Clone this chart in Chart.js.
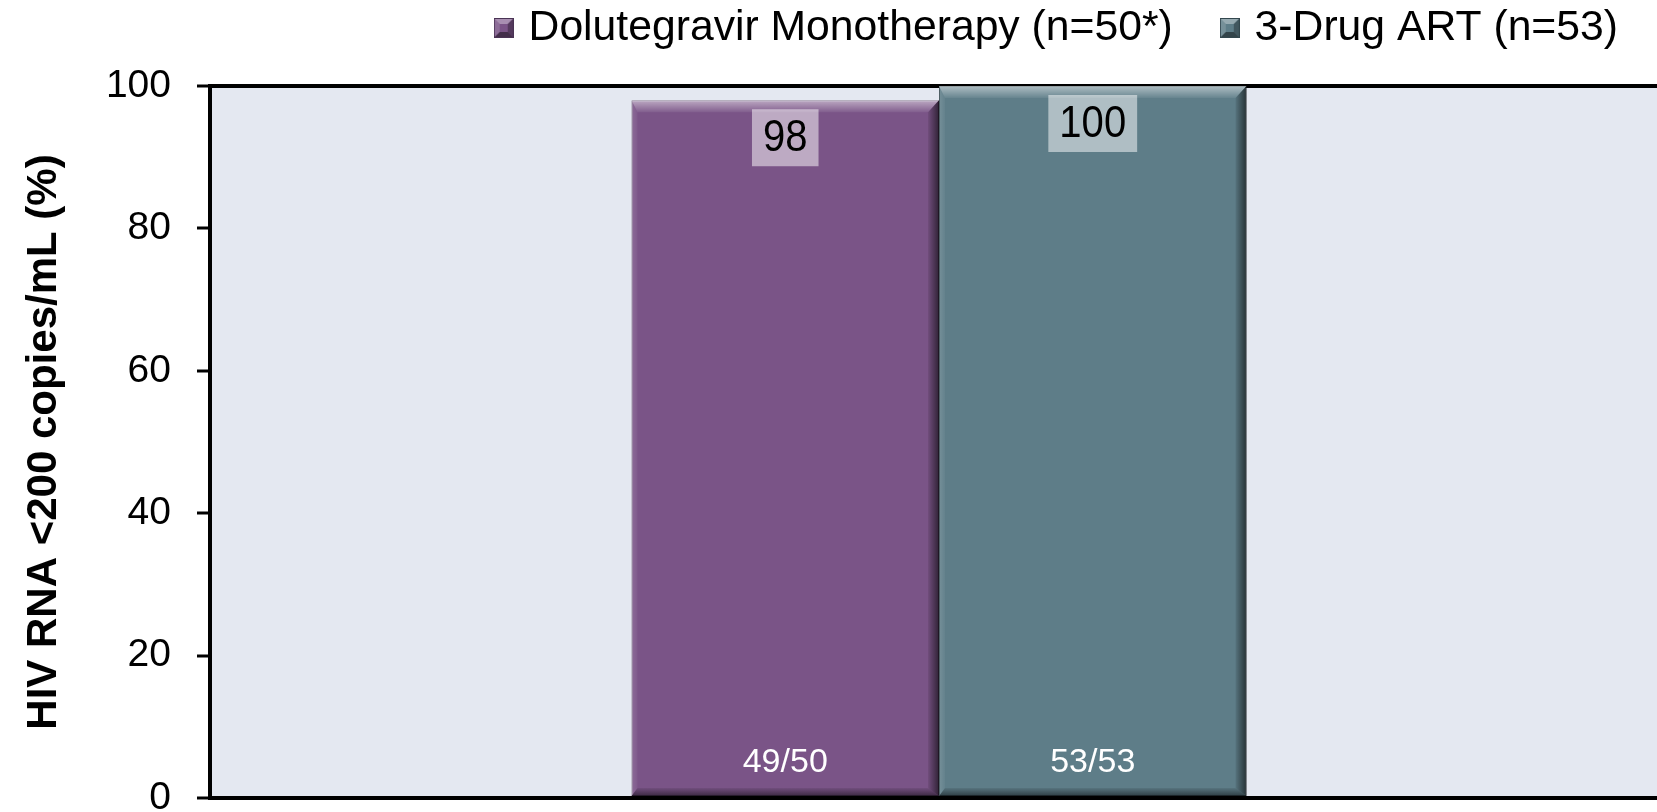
<!DOCTYPE html>
<html>
<head>
<meta charset="utf-8">
<script src="https://cdn.jsdelivr.net/npm/chart.js@4.4.1/dist/chart.umd.min.js"></script>
<style>
html,body{margin:0;padding:0;background:#fff;overflow:hidden;}
#wrap{width:1668px;height:812px;position:relative;}
</style>
</head>
<body>
<div id="wrap"><canvas id="c"></canvas></div>
<script>
// ---- data ----
const categories = [''];
const seriesNames = ['Dolutegravir Monotherapy (n=50*)', '3-Drug ART (n=53)'];
const dtgValues = [98];
const artValues = [100];
const dtgCounts = ['49/50'];
const artCounts = ['53/53'];
const yTickValues = [0, 20, 40, 60, 80, 100];
const yAxisTitle = 'HIV RNA <200 copies/mL (%)';

// ---- styles ----
const FONT = "'Liberation Sans', Arial, Helvetica, sans-serif";
Chart.defaults.font.family = FONT;
Chart.defaults.color = '#000';
const seriesColors = ['#7A5487', '#5E7D88'];
const seriesEdges = ['#4A3354', '#33474E'];
const countLists = [dtgCounts, artCounts];

function poly(ctx, pts, fill) {
  ctx.beginPath();
  ctx.moveTo(pts[0][0], pts[0][1]);
  for (let k = 1; k < pts.length; k++) ctx.lineTo(pts[k][0], pts[k][1]);
  ctx.closePath();
  ctx.fillStyle = fill;
  ctx.fill();
}

function legendSwatch(color, edge) {
  const c = document.createElement('canvas');
  c.width = 20; c.height = 20;
  const g = c.getContext('2d');
  g.fillStyle = color;
  g.fillRect(0, 0, 20, 20);
  poly(g, [[0, 0], [20, 0], [14, 6], [6, 6]], 'rgba(255,255,255,0.35)');
  poly(g, [[0, 0], [6, 6], [6, 14], [0, 20]], 'rgba(255,255,255,0.15)');
  poly(g, [[20, 0], [20, 20], [14, 14], [14, 6]], 'rgba(0,0,0,0.3)');
  poly(g, [[0, 20], [20, 20], [14, 14], [6, 14]], 'rgba(0,0,0,0.45)');
  g.strokeStyle = edge;
  g.lineWidth = 1;
  g.strokeRect(0.5, 0.5, 19, 19);
  return c;
}
const swatches = [legendSwatch(seriesColors[0], seriesEdges[0]), legendSwatch(seriesColors[1], seriesEdges[1])];

const plotBackground = {
  id: 'plotBackground',
  beforeDraw(chart) {
    const {ctx, chartArea: a} = chart;
    ctx.save();
    ctx.fillStyle = '#E4E8F1';
    ctx.fillRect(a.left, a.top, a.right - a.left, a.bottom - a.top);
    ctx.restore();
  }
};

const legendPlacement = {
  id: 'legendPlacement',
  beforeInit(chart) {
    const lg = chart.legend;
    const fit = lg.fit;
    lg.fit = function () {
      fit.call(this);
      this.height = 86;
      if (this.lineWidths) this.lineWidths[0] += 1;
    };
  },
  afterLayout(chart) {
    chart.legend.right = 1672.5;
    chart.legend.top = -46.9;
  }
};

const bevel = {
  id: 'bevel',
  afterDatasetsDraw(chart) {
    const ctx = chart.ctx;
    chart.data.datasets.forEach((ds, i) => {
      chart.getDatasetMeta(i).data.forEach(bar => {
        const {x, y, base, width} = bar.getProps(['x', 'y', 'base', 'width'], true);
        const L = x - width / 2, R = x + width / 2, T = Math.min(y, base), B = Math.max(y, base);
        const bt = 12, br = 11, bb = 8, bl = 6;
        ctx.save();
        let g = ctx.createLinearGradient(0, T, 0, T + bt);
        g.addColorStop(0, 'rgba(255,255,255,0.5)');
        g.addColorStop(1, 'rgba(255,255,255,0.06)');
        poly(ctx, [[L, T], [R, T], [R - br, T + bt], [L + bl, T + bt]], g);
        g = ctx.createLinearGradient(R - br, 0, R, 0);
        g.addColorStop(0, 'rgba(0,0,0,0.08)');
        g.addColorStop(1, 'rgba(0,0,0,0.6)');
        poly(ctx, [[R, T], [R, B], [R - br, B - bb], [R - br, T + bt]], g);
        g = ctx.createLinearGradient(0, B - bb, 0, B);
        g.addColorStop(0, 'rgba(0,0,0,0.08)');
        g.addColorStop(1, 'rgba(0,0,0,0.5)');
        poly(ctx, [[L, B], [R, B], [R - br, B - bb], [L + bl, B - bb]], g);
        g = ctx.createLinearGradient(L, 0, L + bl, 0);
        g.addColorStop(0, 'rgba(255,255,255,0.14)');
        g.addColorStop(1, 'rgba(255,255,255,0.04)');
        poly(ctx, [[L, T], [L, B], [L + bl, B - bb], [L + bl, T + bt]], g);
        ctx.restore();
      });
    });
  }
};

const barLabels = {
  id: 'barLabels',
  afterDatasetsDraw(chart) {
    const ctx = chart.ctx;
    chart.data.datasets.forEach((ds, i) => {
      chart.getDatasetMeta(i).data.forEach((bar, j) => {
        const {x, y, base} = bar.getProps(['x', 'y', 'base'], true);
        const txt = String(ds.data[j]);
        const sx = 0.89;
        ctx.save();
        ctx.font = '45px ' + FONT;
        const tw = ctx.measureText(txt).width * sx;
        const bw = tw + 22, bh = 57, top = y + 9;
        ctx.fillStyle = 'rgba(255,255,255,0.5)';
        ctx.fillRect(x - bw / 2, top, bw, bh);
        ctx.fillStyle = '#000';
        ctx.textAlign = 'center';
        ctx.textBaseline = 'middle';
        ctx.translate(x, top + bh / 2 + 1);
        ctx.scale(sx, 1);
        ctx.fillText(txt, 0, 0);
        ctx.restore();

        ctx.save();
        ctx.font = '34px ' + FONT;
        ctx.fillStyle = '#fff';
        ctx.textAlign = 'center';
        ctx.textBaseline = 'middle';
        ctx.fillText(countLists[i][j], x, base - 33);
        ctx.restore();
      });
    });
  }
};

new Chart(document.getElementById('c'), {
  type: 'bar',
  data: {
    labels: categories,
    datasets: [
      {
        label: seriesNames[0], data: dtgValues,
        backgroundColor: seriesColors[0], borderColor: seriesEdges[0], borderWidth: 1,
        borderSkipped: false, categoryPercentage: 0.4218, barPercentage: 1
      },
      {
        label: seriesNames[1], data: artValues,
        backgroundColor: seriesColors[1], borderColor: seriesEdges[1], borderWidth: 1,
        borderSkipped: false, categoryPercentage: 0.4218, barPercentage: 1
      }
    ]
  },
  options: {
    responsive: true,
    maintainAspectRatio: false,
    devicePixelRatio: 1,
    animation: false,
    layout: { padding: 0 },
    plugins: {
      tooltip: { enabled: false },
      legend: {
        display: true,
        position: 'top',
        align: 'end',
        labels: {
          usePointStyle: true, pointStyleWidth: 7, boxHeight: 20,
          padding: 53.5, color: '#000', font: { size: 42.7 },
          generateLabels(chart) {
            const items = Chart.defaults.plugins.legend.labels.generateLabels(chart);
            items.forEach((it, i) => { it.pointStyle = swatches[i]; });
            return items;
          }
        }
      }
    },
    scales: {
      x: {
        offset: true,
        afterFit: s => { s.height = 14; },
        ticks: { display: false },
        grid: { color: 'rgba(0,0,0,0)', drawTicks: false },
        border: { color: '#000', width: 4 }
      },
      y: {
        min: 0, max: 100,
        afterBuildTicks: s => { s.ticks = yTickValues.map(v => ({ value: v })); },
        afterFit: s => { s.width = 210; s.paddingTop = 0; s.paddingBottom = 0; },
        ticks: { font: { size: 39 }, color: '#000', padding: 26 },
        grid: {
          color: c => (c.tick && c.tick.value === 100) ? '#000' : 'rgba(0,0,0,0)',
          lineWidth: 4, tickColor: '#000', tickLength: 13, tickWidth: 3, drawTicks: true
        },
        border: { color: '#000', width: 4 },
        title: {
          display: true, text: yAxisTitle, color: '#000',
          font: { size: 42, weight: 'bold' }, padding: { top: 19, bottom: 0 }
        }
      }
    }
  },
  plugins: [plotBackground, legendPlacement, bevel, barLabels]
});
</script>
</body>
</html>
